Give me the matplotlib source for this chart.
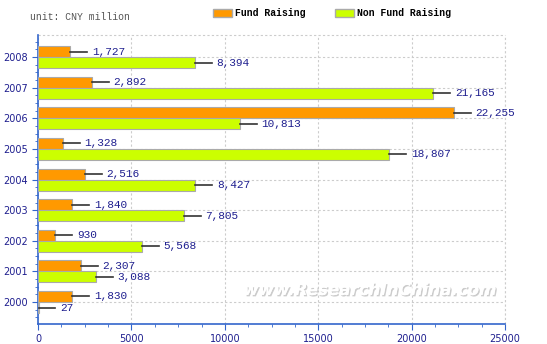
import matplotlib.pyplot as plt
import matplotlib.patheffects as pe
from matplotlib.ticker import MultipleLocator
from matplotlib.patches import Patch
import numpy as np

# Data
years = ['2000', '2001', '2002', '2003', '2004', '2005', '2006', '2007', '2008']
fund_raising = [1830, 2307, 930, 1840, 2516, 1328, 22255, 2892, 1727]
non_fund_raising = [27, 3088, 5568, 7805, 8427, 18807, 10813, 21165, 8394]

ORANGE = '#ff9900'
GREEN = '#ccff00'
AXIS_BLUE = '#3366cc'
TEXT_BLUE = '#1f1f8f'

fig = plt.figure(figsize=(5.47, 3.44), dpi=100)
ax = fig.add_axes([0.0695, 0.058, 0.854, 0.84])

y = np.arange(len(years))
h = 0.36
ax.barh(y + h / 2, fund_raising, height=h, color=ORANGE, edgecolor='#aaaaaa', linewidth=0.8, zorder=3)
ax.barh(y - h / 2, non_fund_raising, height=h, color=GREEN, edgecolor='#aaaaaa', linewidth=0.8, zorder=3)

# leader lines + value labels
lead = 900
for yy, vals in [(y + h / 2, fund_raising), (y - h / 2, non_fund_raising)]:
    for yi, v in zip(yy, vals):
        ax.plot([v, v + lead], [yi, yi], color='#333333', lw=1.2, zorder=4)
        ax.text(v + lead + 250, yi, f'{v:,}', color=TEXT_BLUE, fontsize=8,
                family='Liberation Mono', va='center', ha='left', zorder=5)

ax.set_xlim(0, 25000)
ax.set_ylim(-0.72, 8.72)
ax.set_yticks(y)
ax.set_yticklabels(years)
ax.xaxis.set_major_locator(MultipleLocator(5000))
ax.xaxis.set_minor_locator(MultipleLocator(1250))
ax.yaxis.set_minor_locator(MultipleLocator(0.25))

ax.grid(True, which='major', color='#cccccc', linestyle=(0, (2, 2)), lw=0.8, zorder=0)
for s in ['top', 'right']:
    ax.spines[s].set_visible(False)
ax.plot([0, 1], [1, 1], transform=ax.transAxes, color='#cccccc', ls=(0, (2, 2)), lw=0.8, clip_on=False)
ax.plot([1, 1], [0, 1], transform=ax.transAxes, color='#cccccc', ls=(0, (2, 2)), lw=0.8, clip_on=False)
for s in ['left', 'bottom']:
    ax.spines[s].set_color(AXIS_BLUE)
    ax.spines[s].set_linewidth(1.2)
ax.tick_params(which='both', colors=AXIS_BLUE, labelcolor=TEXT_BLUE, labelsize=7, direction='out')
ax.tick_params(which='major', length=4)
ax.tick_params(which='minor', length=2)

# watermark
ax.text(0.71, 0.118, 'www.ResearchInChina.com', transform=ax.transAxes, fontsize=12,
        style='italic', weight='bold', color='white', ha='center', va='center', zorder=2,
        path_effects=[pe.withSimplePatchShadow(offset=(1, -1), shadow_rgbFace='#c0c0c0', alpha=0.8),
                      pe.Normal()])

fig.text(0.055, 0.952, 'unit: CNY million', fontsize=7, color='#555555',
         family='Liberation Mono', va='center')

# legend
handles = [Patch(facecolor=ORANGE, edgecolor='#aaaaaa'), Patch(facecolor=GREEN, edgecolor='#aaaaaa')]
fig.legend(handles, ['Fund Raising', 'Non Fund Raising'], loc='center left',
           bbox_to_anchor=(0.389, 0.962), ncol=2, frameon=False, borderpad=0, borderaxespad=0,
           prop={'family': 'Liberation Mono', 'size': 7, 'weight': 'bold'},
           handlelength=2.0, handleheight=0.9, columnspacing=3.0, handletextpad=0.3)

fig.savefig('out.png', dpi=100)
